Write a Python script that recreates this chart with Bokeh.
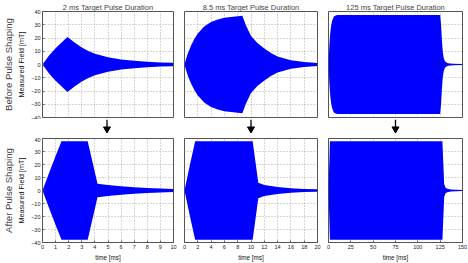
from bokeh.plotting import figure
from bokeh.layouts import row, column
from bokeh.models import FixedTicker, Title, Range1d
from bokeh.embed import file_html
from bokeh.resources import INLINE

FONT = "Liberation Sans"
BLUE = "#0000ff"
FRAME = "#555555"

panel_titles = ["2 ms Target Pulse Duration", "8.5 ms Target Pulse Duration", "125 ms Target Pulse Duration"]
row_labels = ["Before Pulse Shaping", "After Pulse Shaping"]
y_axis_label = "Measured Field [mT]"
x_axis_label = "time [ms]"
x_limits = [10, 20, 150]
x_tick_values = [[0, 1, 2, 3, 4, 5, 6, 7, 8, 9, 10],
                 [0, 2, 4, 6, 8, 10, 12, 14, 16, 18, 20],
                 [0, 25, 50, 75, 100, 125, 150]]
y_tick_values = [-40, -30, -20, -10, 0, 10, 20, 30, 40]

# envelope of the measured field (time in ms, amplitude in mT)
before_2ms_time = [0, 0.5, 1.0, 1.5, 1.9, 2.5, 3, 3.5, 4, 5, 6, 7, 8, 9, 10]
before_2ms_amp = [0, 6.8, 12.3, 17.0, 20.8, 16.3, 12.8, 10.2, 8.2, 5.4, 3.8, 2.8, 2.1, 1.6, 1.3]

before_8p5ms_time = [0, 0.25, 0.5, 1, 1.5, 2, 3, 4, 5, 6, 7, 8, 8.7, 9.2, 10, 11, 12, 13, 14, 16, 18, 20]
before_8p5ms_amp = [0, 4.5, 8.3, 14.6, 19.5, 23.4, 28.8, 32.0, 34.0, 35.2, 35.9, 36.4, 36.7, 30.0, 21.5, 16.0, 12.0, 8.6, 6.0, 3.2, 1.8, 1.1]

before_125ms_time = [0, 1, 2, 3, 4, 6, 8, 10, 125, 126, 127, 128, 129, 130, 131, 133, 136, 140, 150]
before_125ms_amp = [0, 14.9, 24.0, 29.5, 32.8, 36.2, 37.0, 37.3, 37.3, 30.0, 18.0, 9.0, 5.0, 3.0, 2.0, 1.2, 0.7, 0.5, 0.3]

after_2ms_time = [0, 0.5, 1.0, 1.45, 3.45, 4.2, 5, 6, 7, 8, 9, 10]
after_2ms_amp = [0, 13.5, 26.5, 37.8, 37.8, 5.2, 4.2, 3.2, 2.5, 2.0, 1.6, 1.2]

after_8p5ms_time = [0, 0.8, 1.6, 10.25, 11.1, 12, 14, 16, 18, 20]
after_8p5ms_amp = [0, 19.5, 37.8, 37.8, 6.0, 4.3, 2.6, 1.7, 1.2, 0.9]

after_125ms_time = [0, 1.6, 127.5, 129.5, 131, 133, 137, 143, 150]
after_125ms_amp = [0, 37.8, 37.8, 5.0, 2.2, 1.3, 0.8, 0.5, 0.4]

envelopes = [
    [(before_2ms_time, before_2ms_amp), (before_8p5ms_time, before_8p5ms_amp), (before_125ms_time, before_125ms_amp)],
    [(after_2ms_time, after_2ms_amp), (after_8p5ms_time, after_8p5ms_amp), (after_125ms_time, after_125ms_amp)],
]

col_left = [40, 6, 6]
col_frame = [133, 133, 134]
col_right = [5, 5, 6]
row_top = [11, 1]
row_frame = [106, 106]
row_bottom = [2, 19]
gap_height = 18


def style_axis(ax, show_labels, label=None, label_size="7px"):
    if not show_labels:
        ax.visible = False
        return
    ax.axis_line_color = None
    ax.major_tick_in = 2
    ax.major_tick_out = 0
    ax.minor_tick_line_color = None
    ax.major_tick_line_color = FRAME
    ax.major_label_text_font = FONT
    ax.major_label_text_font_size = "5.5px"
    ax.major_label_text_color = "#222222"
    ax.major_label_standoff = 2
    if label:
        ax.axis_label = label
        ax.axis_label_text_font = FONT
        ax.axis_label_text_font_size = label_size
        ax.axis_label_text_font_style = "normal"
        ax.axis_label_text_color = "#111111"
        ax.axis_label_standoff = 2


def make_panel(r, c):
    w = col_left[c] + col_frame[c] + col_right[c]
    h = row_top[r] + row_frame[r] + row_bottom[r]
    p = figure(width=w, height=h, x_range=Range1d(0, x_limits[c]), y_range=Range1d(-40, 40),
               output_backend="svg", toolbar_location=None,
               min_border_left=col_left[c], min_border_right=col_right[c],
               min_border_top=row_top[r], min_border_bottom=row_bottom[r])
    p.background_fill_color = "white"
    p.border_fill_color = "white"
    p.outline_line_color = FRAME
    p.outline_line_width = 1
    p.xaxis.ticker = FixedTicker(ticks=x_tick_values[c])
    p.yaxis.ticker = FixedTicker(ticks=y_tick_values)
    for g in (p.xgrid, p.ygrid):
        g.grid_line_color = "#9a9a9a"
        g.grid_line_dash = "1 2"
        g.grid_line_width = 0.8
    style_axis(p.xaxis[0], r == 1, x_axis_label if r == 1 else None, "6.3px")
    style_axis(p.yaxis[0], c == 0, y_axis_label if c == 0 else None, "7.2px")
    if r == 0:
        p.title.text = panel_titles[c]
        p.title.text_font = FONT
        p.title.text_font_size = "7.5px"
        p.title.text_font_style = "normal"
        p.title.align = "center"
        p.title.standoff = 0
    if c == 0:
        p.add_layout(Title(text=row_labels[r], align="center", text_font=FONT,
                           text_font_size="9.6px", text_font_style="normal",
                           standoff=1), "left")
    t, a = envelopes[r][c]
    p.varea(x=t, y1=[-v for v in a], y2=a, fill_color=BLUE)
    return p


def make_arrow(c):
    # thin strip between the two rows holding a downward arrow centred on the panel
    w = col_left[c] + col_frame[c] + col_right[c]
    s = figure(width=w, height=gap_height, x_range=Range1d(0, w), y_range=Range1d(0, gap_height),
               output_backend="svg", toolbar_location=None, min_border=0,
               x_axis_type=None, y_axis_type=None)
    s.outline_line_color = None
    s.background_fill_color = "white"
    s.border_fill_color = "white"
    xc = col_left[c] + col_frame[c] / 2
    s.segment(x0=[xc], y0=[gap_height], x1=[xc], y1=[9], line_width=1.3, line_color="black")
    s.scatter(x=[xc], y=[8.5], marker="inverted_triangle", size=7,
              fill_color="black", line_color="black")
    return s


top = row(*[make_panel(0, c) for c in range(3)])
mid = row(*[make_arrow(c) for c in range(3)])
bottom = row(*[make_panel(1, c) for c in range(3)])

layout = column(top, mid, bottom)
open("out.html", "w").write(file_html(layout, INLINE))
